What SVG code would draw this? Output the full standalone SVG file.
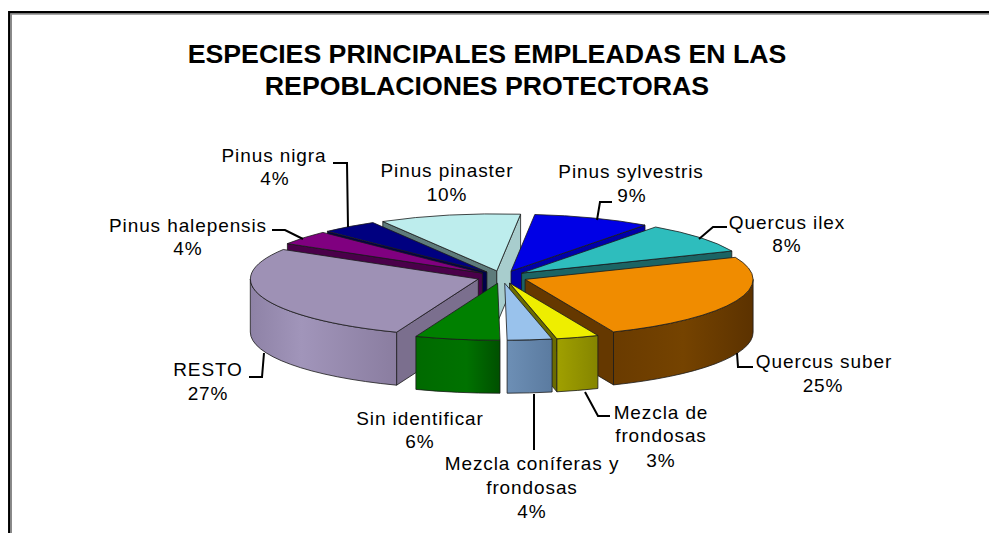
<svg xmlns="http://www.w3.org/2000/svg" width="989" height="533" viewBox="0 0 989 533">
<style>
.f{stroke:#1a1a1a;stroke-width:0.8;stroke-linejoin:round}
.lbl{font-family:"Liberation Sans",Arial,sans-serif;font-size:19px;letter-spacing:0.9px;fill:#000;text-anchor:middle}
.ttl{font-family:"Liberation Sans",Arial,sans-serif;font-size:26.7px;font-weight:bold;fill:#000;text-anchor:middle}
.ld{fill:none;stroke:#000;stroke-width:2}
</style>
<defs>
<linearGradient id="gResto" x1="0" y1="0" x2="1" y2="0">
<stop offset="0" stop-color="#8E82A6"/><stop offset="0.35" stop-color="#A195BA"/><stop offset="1" stop-color="#8A7DA0"/>
</linearGradient>
<linearGradient id="gSuber" x1="0" y1="0" x2="1" y2="0">
<stop offset="0" stop-color="#6A3B00"/><stop offset="0.5" stop-color="#754300"/><stop offset="1" stop-color="#5C3200"/>
</linearGradient>
<linearGradient id="gSin" x1="0" y1="0" x2="1" y2="0">
<stop offset="0" stop-color="#006A00"/><stop offset="0.6" stop-color="#007200"/><stop offset="1" stop-color="#005000"/>
</linearGradient>
<linearGradient id="gCon" x1="0" y1="0" x2="1" y2="0">
<stop offset="0" stop-color="#6D8FB5"/><stop offset="1" stop-color="#5B7BA0"/>
</linearGradient>
<linearGradient id="gFro" x1="0" y1="0" x2="1" y2="0">
<stop offset="0" stop-color="#A0A000"/><stop offset="1" stop-color="#858500"/>
</linearGradient>
</defs>
<rect width="989" height="533" fill="#fff"/>
<g id="frame">
<path d="M11.3,533 V14 H989" fill="none" stroke="#8a8a8a" stroke-width="1.4"/>
<path d="M9.2,533 V12.2 H989" fill="none" stroke="#000" stroke-width="2.3"/>
</g>
<g id="title">
<text class="ttl" x="487" y="63">ESPECIES PRINCIPALES EMPLEADAS EN LAS</text>
<text class="ttl" x="487" y="95">REPOBLACIONES PROTECTORAS</text>
</g>
<g id="pinus-pinaster">
<path class="f" d="M496.8,270.9 L382.8,221.5 L382.8,274.5 L496.8,323.9 Z" fill="#5E7B7B"/>
<path class="f" d="M496.8,270.9 L520.6,214.2 L520.6,267.2 L496.8,323.9 Z" fill="#A8CDCD"/>
<path class="f" d="M496.8,270.9 L382.8,221.5 A228,57 0 0 1 520.6,214.2 Z" fill="#BDEDED"/>
<text class="lbl" x="447" y="177">Pinus pinaster</text>
<text class="lbl" x="447" y="201">10%</text>
</g>
<g id="pinus-sylvestris">
<path class="f" d="M511,271.2 L645,225.1 L645,278.1 L511,324.2 Z" fill="#0000A8"/>
<path class="f" d="M511,271.2 L534.8,214.5 A228,57 0 0 1 645,225.1 Z" fill="#0000E6"/>
<text class="lbl" x="631" y="178">Pinus sylvestris</text>
<text class="lbl" x="632" y="202">9%</text>
</g>
<g id="pinus-nigra">
<path class="f" d="M486.9,272 L327.4,231.3 L327.4,284.3 L486.9,325 Z" fill="#00004A"/>
<path class="f" d="M486.9,272 L327.4,231.3 A228,57 0 0 1 372.9,222.6 Z" fill="#000080"/>
<text class="lbl" x="274" y="162">Pinus nigra</text>
<text class="lbl" x="275" y="185">4%</text>
</g>
<g id="quercus-ilex">
<path class="f" d="M521.6,273.1 L731.8,251 L731.8,304 L521.6,326.1 Z" fill="#1B6464"/>
<path class="f" d="M521.6,273.1 L655.6,227 A228,57 0 0 1 731.8,251 Z" fill="#2EBDBD"/>
<text class="lbl" x="787" y="229">Quercus ilex</text>
<text class="lbl" x="787" y="252">8%</text>
</g>
<g id="pinus-halepensis">
<path class="f" d="M482.4,273.1 L287.4,243.6 L287.4,296.6 L482.4,326.1 Z" fill="#4A004A"/>
<path class="f" d="M482.4,273.1 L287.4,243.6 A228,57 0 0 1 322.9,232.4 Z" fill="#800080"/>
<text class="lbl" x="188" y="232">Pinus halepensis</text>
<text class="lbl" x="188" y="255">4%</text>
</g>
<g id="resto">
<path class="f" d="M478.3,279 L396.6,332.2 L396.6,385.2 L478.3,332 Z" fill="#7B6F8E"/>
<path class="f" d="M396.6,332.2 A228,57 0 0 1 250.3,279 L250.3,332 A228,57 0 0 0 396.6,385.2 Z" fill="url(#gResto)"/>
<path class="f" d="M478.3,279 L396.6,332.2 A228,57 0 0 1 283.3,249.5 Z" fill="#9E91B5"/>
<text class="lbl" x="208" y="376">RESTO</text>
<text class="lbl" x="208" y="400">27%</text>
</g>
<g id="quercus-suber">
<path class="f" d="M525.1,279.4 L613.5,331.9 L613.5,384.9 L525.1,332.4 Z" fill="#653800"/>
<path class="f" d="M753.1,279.4 A228,57 0 0 1 613.5,331.9 L613.5,384.9 A228,57 0 0 0 753.1,332.4 Z" fill="url(#gSuber)"/>
<path class="f" d="M525.1,279.4 L735.3,257.3 A228,57 0 0 1 613.5,331.9 Z" fill="#F08C00"/>
<text class="lbl" x="824" y="368">Quercus suber</text>
<text class="lbl" x="823" y="392">25%</text>
</g>
<g id="sin-identificar">
<path class="f" d="M500,340.2 A228,57 0 0 1 415.9,336.4 L415.9,389.4 A228,57 0 0 0 500,393.2 Z" fill="url(#gSin)"/>
<path class="f" d="M497.6,283.2 L500,340.2 A228,57 0 0 1 415.9,336.4 Z" fill="#008000"/>
<text class="lbl" x="420" y="425">Sin identificar</text>
<text class="lbl" x="420" y="448">6%</text>
</g>
<g id="mezcla-frondosas">
<path class="f" d="M509.5,283 L556.9,338.8 L556.9,391.8 L509.5,336 Z" fill="#6B6B00"/>
<path class="f" d="M597.9,335.5 A228,57 0 0 1 556.9,338.8 L556.9,391.8 A228,57 0 0 0 597.9,388.5 Z" fill="url(#gFro)"/>
<path class="f" d="M509.5,283 L597.9,335.5 A228,57 0 0 1 556.9,338.8 Z" fill="#EEEE00"/>
<text class="lbl" x="661" y="419">Mezcla de</text>
<text class="lbl" x="661" y="442">frondosas</text>
<text class="lbl" x="661" y="467">3%</text>
</g>
<g id="mezcla-coniferas-frondosas">
<path class="f" d="M552.1,339 A228,57 0 0 1 507.1,340.2 L507.1,393.2 A228,57 0 0 0 552.1,392 Z" fill="url(#gCon)"/>
<path class="f" d="M504.7,283.2 L552.1,339 A228,57 0 0 1 507.1,340.2 Z" fill="#99C2EC"/>
<text class="lbl" x="532" y="470">Mezcla coníferas y</text>
<text class="lbl" x="532" y="494">frondosas</text>
<text class="lbl" x="532" y="518">4%</text>
</g>
<g id="connectors">
<path class="ld" d="M333,163 H347 L348,227"/>
<path class="ld" d="M272,230 H285 L303,239"/>
<path class="ld" d="M612,202 H600 L597,220"/>
<path class="ld" d="M727,227 H713 L699,239"/>
<path class="ld" d="M737,353 L738,367 H753"/>
<path class="ld" d="M585,392 L598,416 H610"/>
<path class="ld" d="M534,394 V450"/>
<path class="ld" d="M264,353 L262,377 H249"/>
</g>
</svg>
